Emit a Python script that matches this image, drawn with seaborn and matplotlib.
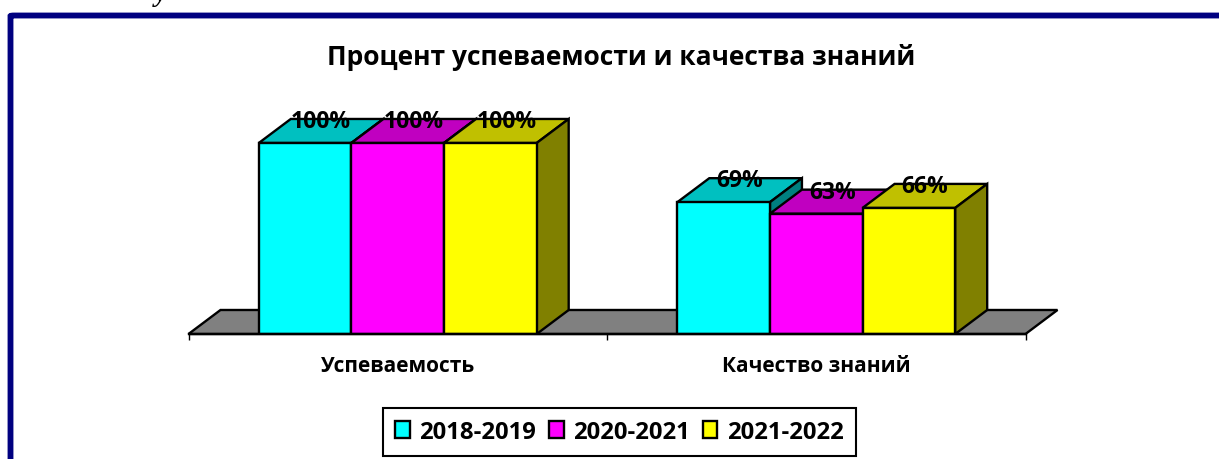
# Import libraries
import matplotlib
matplotlib.use('Agg')
import matplotlib.pyplot as plt
from matplotlib.patches import Polygon, FancyBboxPatch
import pandas as pd
import seaborn as sns

# Define data
categories = ['Успеваемость', 'Качество знаний']
years = ['2018-2019', '2020-2021', '2021-2022']
values_2018 = [100, 69]
values_2020 = [100, 63]
values_2021 = [100, 66]
tick_edges = [-0.5, 0.5, 1.5]
title = 'Процент успеваемости и качества знаний'

# Colours: front, top and side of the bars
front_colors = ['#00FFFF', '#FF00FF', '#FFFF00']
top_colors = ['#00C0C0', '#C000C0', '#C0C000']
side_colors = ['#008080', '#800080', '#808000']

df = pd.DataFrame({
    'category': categories * 3,
    'year': [y for y in years for _ in categories],
    'value': values_2018 + values_2020 + values_2021,
})

sns.set_theme(style='white')
plt.rcParams['font.family'] = ['Open Sans', 'Noto Sans', 'DejaVu Sans']
plt.rcParams['font.weight'] = 'bold'

W, H = 1219, 460
fig = plt.figure(figsize=(W / 100, H / 100), dpi=100)
ax = fig.add_axes([188.5 / W, (H - 335) / H, 837 / W, 234 / H])
ax.patch.set_alpha(0)

# Front faces
sns.barplot(data=df, x='category', y='value', hue='year', hue_order=years,
            order=categories, palette=front_colors, saturation=1, width=0.664,
            gap=0, edgecolor='black', linewidth=1.7, ax=ax, legend=False)
ax.set_xlim(-0.5, 1.5)
ax.set_ylim(0, 122.5)

# Depth of the 3D look in data units
dx = 32 / 418.5
dy = 12.57

# Grey floor
floor = Polygon([(-0.5, 0), (1.5, 0), (1.5 + dx, dy), (-0.5 + dx, dy)], closed=True,
                facecolor='#808080', edgecolor='black', linewidth=1.7, zorder=1, clip_on=False)
ax.add_patch(floor)

# Top and side of each bar, painted left to right
for i, cont in enumerate(ax.containers):
    for j, bar in enumerate(cont):
        x0 = bar.get_x()
        x1 = x0 + bar.get_width()
        v = bar.get_height()
        z = 3 + 3 * (j * 3 + i)
        top = Polygon([(x0, v), (x1, v), (x1 + dx, v + dy), (x0 + dx, v + dy)], closed=True,
                      facecolor=top_colors[i], edgecolor='black', linewidth=1.7, zorder=z)
        side = Polygon([(x1, 0), (x1 + dx, dy), (x1 + dx, v + dy), (x1, v)], closed=True,
                       facecolor=side_colors[i], edgecolor='black', linewidth=1.7, zorder=z)
        ax.add_patch(top)
        ax.add_patch(side)
        bar.set_zorder(z + 1)
        ax.text(x0 + bar.get_width() / 2 + dx / 2, v + dy - 1, f'{v:.0f}%', ha='center', va='center',
                fontsize=16.5, fontweight='bold', color='black', zorder=100)

# Axis: ticks between the groups, labels in the middle
sns.despine(ax=ax, left=True)
ax.spines['bottom'].set_color('black')
ax.spines['bottom'].set_linewidth(1.7)
ax.spines['bottom'].set_zorder(50)
ax.set_xlabel('')
ax.set_ylabel('')
ax.set_yticks([])
ax.set_xticks(tick_edges)
ax.set_xticklabels([])
ax.set_xticks([0, 1], categories, minor=True)
ax.tick_params(axis='x', which='major', length=4, width=1, color='black', bottom=True)
ax.tick_params(axis='x', which='minor', length=0, pad=15, labelsize=15, labelcolor='black')
for lab in ax.get_xticklabels(minor=True):
    lab.set_fontweight('bold')

# Title
fig.text(621 / W, 1 - 58 / H, title, ha='center', va='center', fontsize=19,
         fontweight='bold', color='black')

# Legend
handles = [c[0] for c in ax.containers]
leg = fig.legend(handles, years, ncol=3, loc='center', bbox_to_anchor=(619.5 / W, 1 - 433 / H),
                 fontsize=17.2, frameon=True, fancybox=False, edgecolor='black',
                 framealpha=1, handlelength=0.6, handleheight=0.7, handletextpad=0.4,
                 columnspacing=0.55, borderpad=0.5, borderaxespad=0)
leg.get_frame().set_linewidth(1.5)
for t in leg.get_texts():
    t.set_color('black')
    t.set_fontweight('bold')

# Dark blue frame, runs off the right and bottom of the picture
frame = FancyBboxPatch((10.5 / W, -60 / H), 1300 / W, (H - 15.5 + 60) / H - 0.0022,
                       boxstyle='round,pad=0,rounding_size=0.003', transform=fig.transFigure,
                       facecolor='none', edgecolor='#000080', linewidth=4.2, clip_on=True,
                       mutation_aspect=H / W)
fig.add_artist(frame)

# Bit of the text line above the chart, cut by the top edge
fig.text(161 / W, 1 - 1 / H, 'у', ha='center', va='baseline', fontsize=20,
         family='Liberation Serif', style='italic', fontweight='bold', color='black')

fig.savefig('out.png', dpi=100)
